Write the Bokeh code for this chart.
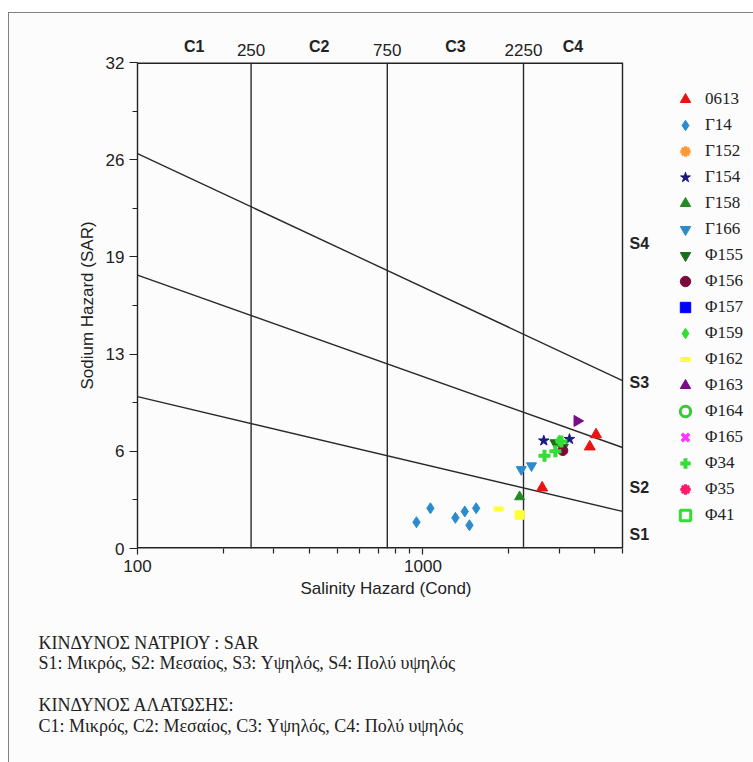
import math
from bokeh.plotting import figure
from bokeh.models import (FixedTicker, PrintfTickFormatter, Legend, LegendItem, Range1d,
                          LogAxis, Title)
from bokeh.embed import file_html
from bokeh.resources import INLINE
from bokeh.core.properties import value

NA = float("nan")   # series listed in the legend with no visible point

# ---------------- data ----------------
x_min, x_max = 100, 5000
y_min, y_max = 0, 32
x_ticks = [100, 1000]
x_minor = [200, 300, 400, 500, 600, 700, 800, 900, 2000, 3000, 4000, 5000]
y_ticks = [0, 6.4, 12.8, 19.2, 25.6, 32]
y_minor = [3.2, 9.6, 16.0, 22.4, 28.8]

cond_bounds = [250, 750, 2250]
cond_classes = ["C1", "C2", "C3", "C4"]

sar_at_min = [10.0, 18.0, 26.0]
sar_at_max = [2.44, 6.65, 11.06]
s_classes = ["S1", "S2", "S3", "S4"]
s_label_y = [0.9, 4.0, 10.9, 20.1]

names = ["0613", "Γ14", "Γ152", "Γ154", "Γ158", "Γ166", "Φ155", "Φ156", "Φ157",
         "Φ159", "Φ162", "Φ163", "Φ164", "Φ165", "Φ34", "Φ35", "Φ41"]

s0613_x = [2615, 3840, 4040]
s0613_y = [4.0, 6.7, 7.5]
g14_x = [949, 1062, 1299, 1401, 1536, 1455]
g14_y = [1.73, 2.65, 2.02, 2.44, 2.65, 1.53]
g152_x, g152_y = [NA], [NA]
g154_x = [2650, 3260]
g154_y = [7.1, 7.2]
g158_x = [2180]
g158_y = [3.4]
g166_x = [2210, 2400]
g166_y = [5.2, 5.45]
f155_x = [2910, 3090]
f155_y = [6.95, 6.65]
f156_x = [3090]
f156_y = [6.45]
f157_x, f157_y = [NA], [NA]
f159_x = [3000]
f159_y = [7.1]
f162_x = [1840, 2180, 2180]
f162_y = [2.6, 2.35, 2.05]
f163_x = [3470]
f163_y = [8.4]
f164_x, f164_y = [NA], [NA]
f165_x, f165_y = [NA], [NA]
f34_x = [2665, 2910, 3055]
f34_y = [6.1, 6.4, 7.05]
f35_x, f35_y = [NA], [NA]
f41_x, f41_y = [NA], [NA]

x_title = "Salinity Hazard (Cond)"
y_title = "Sodium Hazard (SAR)"
note_lines = [
    "ΚΙΝΔΥΝΟΣ ΝΑΤΡΙΟΥ : SAR",
    "S1: Μικρός, S2: Μεσαίος, S3: Υψηλός, S4: Πολύ υψηλός",
    "",
    "ΚΙΝΔΥΝΟΣ ΑΛΑΤΩΣΗΣ:",
    "C1: Μικρός, C2: Μεσαίος, C3: Υψηλός, C4: Πολύ υψηλός",
]

# ---------------- layout ----------------
W, H = 744, 749
FL, FT = 128, 49
PW, FH = 485, 486          # width of the drawn diagram box, frame height
FW = W - FL                # frame reaches the right edge (room for labels + legend)
BG = "#fcfcfc"
INK = "#222222"
sans = "Liberation Sans"
serif = "Liberation Serif"

px_per_decade = PW / math.log10(x_max / x_min)
x_far = x_max * 10 ** ((FW - PW) / px_per_decade)

p = figure(width=W, height=H, x_axis_type="log",
           x_range=Range1d(x_min, x_far), y_range=Range1d(y_min, y_max),
           output_backend="svg", toolbar_location=None,
           min_border_left=FL, min_border_top=FT,
           min_border_right=0, min_border_bottom=H - FT - FH,
           background_fill_color=BG, border_fill_color=BG)
p.frame_width = FW
p.frame_height = FH
p.styles = {"border-top": "1px solid #808080", "border-left": "1px solid #808080"}
p.margin = (12, 0, 0, 8)
p.xgrid.visible = False
p.ygrid.visible = False
p.outline_line_color = None

xa = p.xaxis[0]
xa.ticker = FixedTicker(ticks=x_ticks, minor_ticks=x_minor)
xa.formatter = PrintfTickFormatter(format="%d")
ya = p.yaxis[0]
ya.ticker = FixedTicker(ticks=y_ticks, minor_ticks=y_minor)
ya.formatter = PrintfTickFormatter(format="%.0f")
ya.axis_label = y_title
for ax in (xa, ya):
    ax.axis_line_color = INK
    ax.axis_line_width = 1.4
    ax.major_tick_line_color = INK
    ax.minor_tick_line_color = INK
    ax.major_tick_line_width = 1.2
    ax.minor_tick_line_width = 1.2
    ax.major_tick_in = 0
    ax.minor_tick_in = 0
    ax.major_label_text_font = sans
    ax.major_label_text_font_size = "17px"
    ax.major_label_text_color = INK
    ax.axis_label_text_font = sans
    ax.axis_label_text_font_size = "17px"
    ax.axis_label_text_font_style = "normal"
    ax.axis_label_text_color = INK
xa.axis_line_color = None      # drawn below only up to x_max
xa.major_tick_out = 6
xa.minor_tick_out = 5
xa.major_label_standoff = 5
ya.major_tick_out = 8
ya.minor_tick_out = 5
ya.major_label_standoff = 5
ya.axis_label_standoff = 6


def label_axis(ax, font_size, bold, standoff):
    ax.axis_line_color = None
    ax.major_tick_line_color = None
    ax.minor_tick_line_color = None
    ax.major_tick_out = 0
    ax.major_tick_in = 0
    ax.minor_tick_out = 0
    ax.major_label_standoff = standoff
    ax.major_label_text_font = sans
    ax.major_label_text_font_size = font_size
    ax.major_label_text_font_style = "bold" if bold else "normal"
    ax.major_label_text_color = INK


# boundary values above the chart
top_num = LogAxis(ticker=FixedTicker(ticks=cond_bounds), formatter=PrintfTickFormatter(format="%d"))
label_axis(top_num, "17px", False, 7)
p.add_layout(top_num, "above")

# class names C1..C4 centred (geometric mean) between boundaries
edges = [x_min] + cond_bounds + [x_max]
c_pos = [math.sqrt(edges[i] * edges[i + 1]) for i in range(len(cond_classes))]
top_cls = LogAxis(ticker=FixedTicker(ticks=c_pos),
                  major_label_overrides={c: t for c, t in zip(c_pos, cond_classes)})
label_axis(top_cls, "16px", True, -14)
p.add_layout(top_cls, "above")

# diagram box (bottom, top, right edges)
p.segment(x0=[x_min, x_min], y0=[y_min, y_max], x1=[x_max, x_max], y1=[y_min, y_max],
          line_color=INK, line_width=2.8)
p.segment(x0=[x_max], y0=[y_min], x1=[x_max], y1=[y_max], line_color=INK, line_width=1.4)

# boundary lines
p.segment(x0=[x_min] * len(sar_at_min), y0=sar_at_min,
          x1=[x_max] * len(sar_at_max), y1=sar_at_max,
          line_color="#2a2a2a", line_width=1.4)
p.segment(x0=cond_bounds, y0=[y_min] * len(cond_bounds),
          x1=cond_bounds, y1=[y_max] * len(cond_bounds),
          line_color="#2a2a2a", line_width=1.4)

# S1..S4 labels right of the diagram
p.text(x=[x_max] * len(s_classes), y=s_label_y, text=s_classes, x_offset=7,
       text_align="left", text_baseline="middle", text_font=value(sans),
       text_font_size="16px", text_font_style="bold", text_color=INK)

# series
styles = [
    (s0613_x, s0613_y, dict(marker="triangle", size=11, fill_color="#ee1111", line_color="#ee1111")),
    (g14_x, g14_y, dict(marker="diamond", size=11, fill_color="#2b8ccd", line_color="#2b8ccd")),
    (g152_x, g152_y, dict(marker="asterisk", size=11, line_color="#ff9933", line_width=3)),
    (g154_x, g154_y, dict(marker="star", size=11, fill_color="#1a1a80", line_color="#1a1a80")),
    (g158_x, g158_y, dict(marker="triangle", size=10, fill_color="#228b22", line_color="#228b22")),
    (g166_x, g166_y, dict(marker="inverted_triangle", size=10, fill_color="#2b8ccd", line_color="#2b8ccd")),
    (f155_x, f155_y, dict(marker="inverted_triangle", size=11, fill_color="#1a6e1a", line_color="#1a6e1a")),
    (f156_x, f156_y, dict(marker="circle", size=10, fill_color="#7a0a3c", line_color="#7a0a3c")),
    (f157_x, f157_y, dict(marker="square", size=10, fill_color="#0000ff", line_color="#0000ff")),
    (f159_x, f159_y, dict(marker="diamond", size=11, fill_color="#33dd33", line_color="#33dd33")),
    (f162_x, f162_y, dict(marker="dash", size=10, line_color="#ffff33", line_width=5)),
    (f163_x, f163_y, dict(marker="triangle", size=11, angle=-math.pi / 2, fill_color="#7a0a8a", line_color="#7a0a8a")),
    (f164_x, f164_y, dict(marker="circle", size=9, fill_color=BG, line_color="#33cc33", line_width=3)),
    (f165_x, f165_y, dict(marker="x", size=10, line_color="#ff33ff", line_width=3.5)),
    (f34_x, f34_y, dict(marker="cross", size=12, line_color="#33dd33", line_width=4)),
    (f35_x, f35_y, dict(marker="asterisk", size=11, line_color="#ff1a6e", line_width=3)),
    (f41_x, f41_y, dict(marker="square", size=9, fill_color=BG, line_color="#33dd33", line_width=3)),
]
items = []
for name, (xs, ys, kw) in zip(names, styles):
    r = p.scatter(x=xs, y=ys, **kw)
    items.append(LegendItem(label=name, renderers=[r]))

legend = Legend(items=items, location=(535, 20), padding=0, margin=0,
                glyph_width=26, glyph_height=26, label_height=26, spacing=0,
                label_standoff=7, border_line_alpha=0, background_fill_alpha=0,
                label_text_font=serif, label_text_font_size="17px",
                label_text_color=INK)
p.add_layout(legend, "center")

# x-axis title, centred under the diagram box (not the wider frame)
xt = Title(text=x_title, align="left", offset=163, standoff=9,
           vertical_align="top", text_font=sans, text_font_size="17px",
           text_font_style="normal", text_color=INK)
p.add_layout(xt, "below")

# explanatory notes below the chart
notes = Title(text="\n".join(note_lines), align="left", offset=-99, standoff=56,
              vertical_align="top", text_font=serif, text_font_size="18px",
              text_font_style="normal", text_color=INK, text_line_height=1.04)
p.add_layout(notes, "below")

open("out.html", "w").write(file_html(p, INLINE))
